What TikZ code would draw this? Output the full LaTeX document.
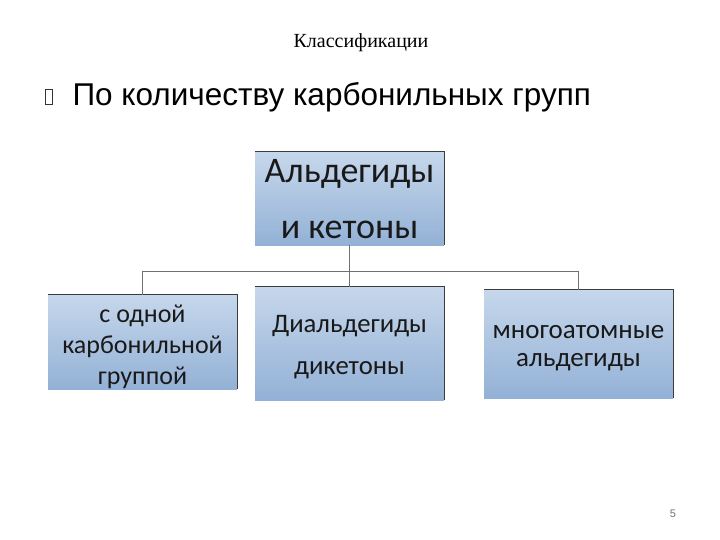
\documentclass[tikz,border=0pt]{standalone}
\usepackage{fontspec}
\setmainfont{Liberation Serif}
\newfontfamily\arialfont{Liberation Sans}
\newfontfamily\calfont{Carlito}
\usepackage{tikz}
\usetikzlibrary{calc}
\definecolor{boxtop}{HTML}{C6D7EB}
\definecolor{boxbot}{HTML}{93B1D6}
\definecolor{boxedge}{HTML}{3C3C3C}
\definecolor{wire}{HTML}{707070}

\begin{document}
\begin{tikzpicture}[x=1pt,y=1pt,
  classbox/.style={top color=boxtop,bottom color=boxbot,draw=none,
    minimum width=189pt,inner sep=0pt},
  boxtext/.style={align=center,text=black!90,inner sep=0pt},
  wire/.style={draw=wire,line width=0.8pt}]
\useasboundingbox[fill=white] (0,0) rectangle (720,-540);
\node[font=\fontsize{20}{24}\selectfont] (title) at (361,-43) {Классификации};
\node[draw=black!80,line width=0.5pt,minimum width=7pt,minimum height=15pt,inner sep=0pt] (bul) at (49,-97) {};
\node[anchor=west,font=\arialfont\fontsize{31.5}{36}\selectfont] (sub) at (69,-97) {По количеству карбонильных групп};
% boxes
\node[classbox,minimum height=93pt] (ald) at (349.5,-198.5) {};
\node[classbox,minimum height=94pt] (one) at (142.5,-342) {};
\node[classbox,minimum height=113pt] (di) at (349.5,-343.5) {};
\node[classbox,minimum height=108pt] (multi) at (578.5,-344) {};
\foreach \b in {ald,one,di,multi}
  \draw[boxedge,line width=0.8pt] (\b.north west) -- (\b.north east) -- (\b.south east);
% box texts
\node[boxtext,font=\calfont\fontsize{36}{56}\selectfont] (ald-t) at ($(ald.center)+(0,-1)$)
  {Альдегиды\\и кетоны};
\node[boxtext,font=\calfont\fontsize{26}{31}\selectfont] (one-t) at ($(one.center)+(0,-5)$)
  {с одной\\карбонильной\\группой};
\node[boxtext,font=\calfont\fontsize{26.7}{42}\selectfont] (di-t) at ($(di.center)+(0,-4)$)
  {Диальдегиды\\дикетоны};
\node[boxtext,font=\calfont\fontsize{27}{28}\selectfont] (multi-t) at ($(multi.center)+(0,-4)$)
  {многоатомные\\альдегиды};
% connectors
\coordinate (bus) at (349.5,-271);
\draw[wire] (ald.south) -- (bus);
\draw[wire] (bus) -| (one.north);
\draw[wire] (bus) -- (di.north);
\draw[wire] (bus) -| (multi.north);
\node[text=black!55,font=\arialfont\fontsize{11}{13}\selectfont] (page) at (673,-514) {5};
\end{tikzpicture}
\end{document}
